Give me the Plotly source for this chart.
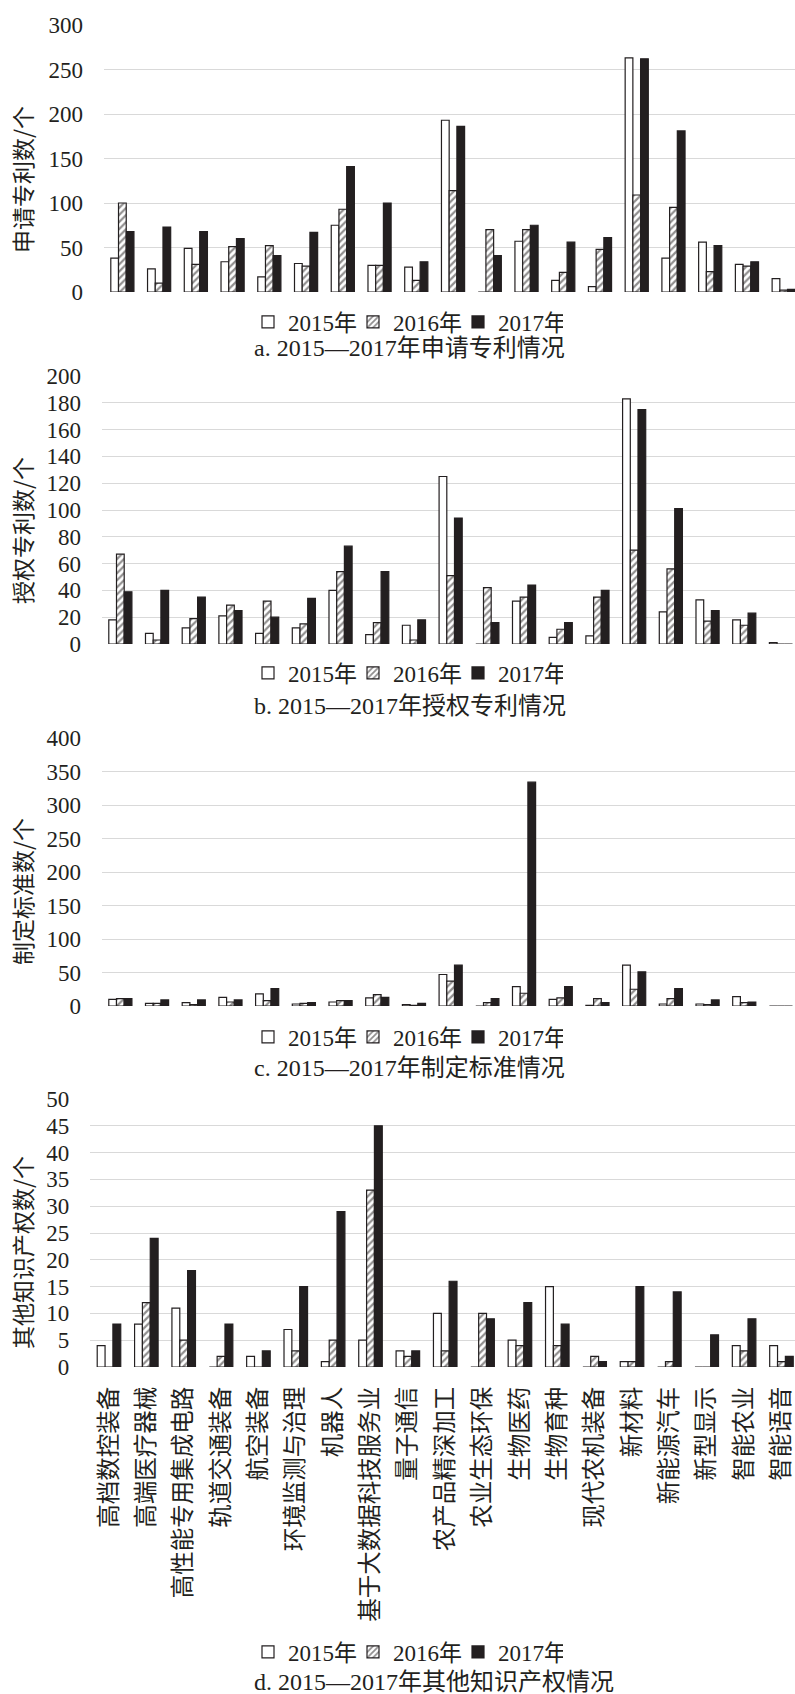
import plotly.graph_objects as go

categories = ["高档数控装备", "高端医疗器械", "高性能专用集成电路", "轨道交通装备", "航空装备",
              "环境监测与治理", "机器人", "基于大数据科技服务业", "量子通信", "农产品精深加工",
              "农业生态环保", "生物医药", "生物育种", "现代农机装备", "新材料", "新能源汽车",
              "新型显示", "智能农业", "智能语音"]
years = ["2015年", "2016年", "2017年"]

apply_2015 = [38, 26, 49, 34, 17, 32, 75, 30, 28, 193, 0, 57, 13, 6, 263, 38, 56, 31, 15]
apply_2016 = [100, 10, 31, 51, 52, 29, 93, 30, 13, 114, 70, 70, 22, 48, 109, 95, 23, 29, 2]
apply_2017 = [68, 73, 68, 60, 41, 67, 141, 100, 34, 186, 41, 75, 56, 61, 262, 181, 52, 34, 3]

grant_2015 = [18, 8, 12, 21, 8, 12, 40, 7, 14, 125, 0, 32, 5, 6, 183, 24, 33, 18, 1]
grant_2016 = [67, 3, 19, 29, 32, 15, 54, 16, 3, 51, 42, 35, 11, 35, 70, 56, 17, 14, 0]
grant_2017 = [39, 40, 35, 25, 20, 34, 73, 54, 18, 94, 16, 44, 16, 40, 175, 101, 25, 23, 0]

standard_2015 = [10, 4, 5, 13, 18, 3, 6, 12, 2, 47, 0, 29, 10, 1, 61, 3, 3, 14, 0]
standard_2016 = [11, 4, 2, 6, 8, 4, 8, 17, 1, 37, 5, 19, 12, 11, 25, 11, 2, 5, 0]
standard_2017 = [11, 9, 9, 9, 26, 5, 8, 13, 4, 61, 11, 334, 29, 5, 51, 26, 9, 6, 0]

other_2015 = [4, 8, 11, 0, 2, 7, 1, 5, 3, 10, 0, 5, 15, 0, 1, 0, 0, 4, 4]
other_2016 = [0, 12, 5, 2, 0, 3, 5, 33, 2, 3, 10, 4, 4, 2, 1, 1, 0, 3, 1]
other_2017 = [8, 24, 18, 8, 3, 15, 29, 45, 3, 16, 9, 12, 8, 1, 15, 14, 6, 9, 2]

y_titles = ["申请专利数/个", "授权专利数/个", "制定标准数/个", "其他知识产权数/个"]
captions = ["a. 2015—2017年申请专利情况", "b. 2015—2017年授权专利情况",
            "c. 2015—2017年制定标准情况", "d. 2015—2017年其他知识产权情况"]
y_max = [300, 200, 400, 50]
y_dtick = [50, 20, 50, 5]

panels = [
    (apply_2015, apply_2016, apply_2017),
    (grant_2015, grant_2016, grant_2017),
    (standard_2015, standard_2016, standard_2017),
    (other_2015, other_2016, other_2017),
]

W, H = 795, 1694
DARK = "#231f20"
GRID = "#d9d9d9"
SERIF = "Liberation Serif, Noto Sans CJK SC, serif"
CJK = "Noto Sans CJK SC"

# pixel layout (top/bottom of plot areas, left edges, category band widths)
plot_top = [25, 376, 738, 1099]
plot_bot = [292, 644, 1006, 1367]
plot_left = [104, 102, 102, 90.3]
band = [36.74, 36.7, 36.7, 37.36]
title_y = [180, 531, 892, 1253]
legend_y = [322, 673, 1037, 1652]
caption_y = [348, 706, 1068, 1682]


def py(p):
    return 1 - p / H


fig = go.Figure()
legend_names = ["legend", "legend2", "legend3", "legend4"]
for i, (s15, s16, s17) in enumerate(panels):
    ax = "" if i == 0 else str(i + 1)
    common = dict(x=categories, xaxis="x" + ax, yaxis="y" + ax, legend=legend_names[i])
    fig.add_trace(go.Bar(y=s15, name=years[0],
                         marker=dict(color="white", line=dict(color=DARK, width=1.2)), **common))
    fig.add_trace(go.Bar(y=s16, name=years[1],
                         marker=dict(color="white", line=dict(color=DARK, width=1.2),
                                     pattern=dict(shape="/", fgcolor=DARK, bgcolor="white",
                                                  size=5, solidity=0.45)), **common))
    fig.add_trace(go.Bar(y=s17, name=years[2],
                         marker=dict(color=DARK, line=dict(color=DARK, width=1.2)), **common))

layout = dict(
    width=W, height=H,
    margin=dict(l=0, r=0, t=0, b=0, autoexpand=False),
    paper_bgcolor="white", plot_bgcolor="white",
    barmode="group", bargap=0.37, bargroupgap=0,
    font=dict(family=SERIF, color=DARK, size=23),
    annotations=[],
)

for i in range(4):
    ax = "" if i == 0 else str(i + 1)
    left = plot_left[i]
    xr = [-0.5, -0.5 + (W - left) / band[i]]
    layout["xaxis" + ax] = dict(
        domain=[left / W, 1], range=xr, anchor="y" + ax, automargin=False,
        showgrid=False, zeroline=False, showline=False,
        showticklabels=(i == 3), tickangle=-90, ticks="",
        tickfont=dict(family=CJK, size=23.5, color=DARK),
        ticklabelstandoff=14, ticklabeloverflow="allow",
    )
    layout["yaxis" + ax] = dict(
        domain=[py(plot_bot[i]), py(plot_top[i])], range=[0, y_max[i]], dtick=y_dtick[i],
        anchor="x" + ax, automargin=False, showgrid=True, gridcolor=GRID, gridwidth=1.3,
        zeroline=False, showline=False, ticks="",
        tickfont=dict(family=SERIF, size=23, color=DARK),
        ticklabelstandoff=20,
    )
    layout[legend_names[i]] = dict(
        orientation="h", x=248 / W, xanchor="left", y=py(legend_y[i]), yanchor="middle",
        font=dict(family=SERIF, size=23, color=DARK), bgcolor="rgba(0,0,0,0)",
        itemwidth=30, entrywidth=60, tracegroupgap=0, traceorder="normal",
    )
    layout["annotations"].append(dict(
        text=y_titles[i], x=22 / W, y=py(title_y[i]), xref="paper", yref="paper",
        xanchor="center", yanchor="middle", textangle=-90, showarrow=False,
        font=dict(family=CJK, size=23, color=DARK),
    ))
    layout["annotations"].append(dict(
        text=captions[i], x=252 / W, y=py(caption_y[i]), xref="paper", yref="paper",
        xanchor="left", yanchor="middle", showarrow=False,
        font=dict(family=SERIF, size=24, color=DARK),
    ))

fig.update_layout(**layout)
fig.write_html("out.html", config={"displayModeBar": False},
               post_script="document.body.style.margin='0';document.body.style.overflow='hidden';")
